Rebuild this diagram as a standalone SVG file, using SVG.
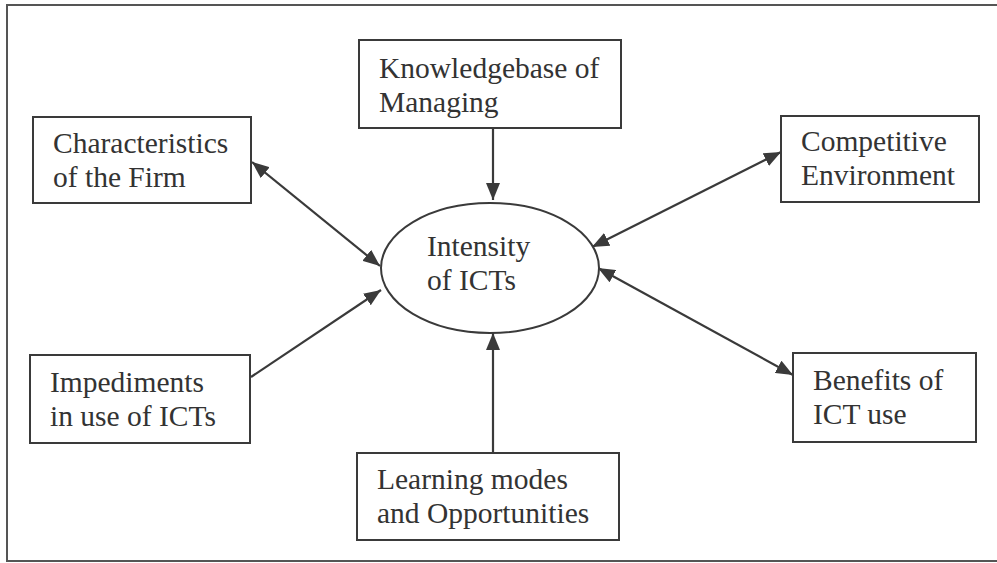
<svg xmlns="http://www.w3.org/2000/svg" width="997" height="563" viewBox="0 0 997 563">
<defs>
<marker id="ah" markerUnits="userSpaceOnUse" markerWidth="18" markerHeight="14" viewBox="0 0 18 14" refX="17" refY="7" orient="auto-start-reverse">
<path d="M0,0 L17,7 L0,14 z" fill="#3a3a3a"/>
</marker>
<style>
.box{fill:#fff;stroke:#3a3a3a;stroke-width:2}
.t{font-family:"Liberation Serif","Times New Roman",serif;font-size:29.5px;fill:#333}
.c{stroke:#3a3a3a;stroke-width:2.2;fill:none}
</style>
</defs>
<rect x="0" y="0" width="997" height="563" fill="#fff"/>
<rect x="7" y="5" width="1000" height="556" fill="none" stroke="#555" stroke-width="2"/>
<g id="connectors">
<line class="c" x1="493" y1="129" x2="493" y2="200" marker-end="url(#ah)"/>
<line class="c" x1="252" y1="162" x2="380" y2="266" marker-start="url(#ah)" marker-end="url(#ah)"/>
<line class="c" x1="781" y1="152" x2="592" y2="247" marker-start="url(#ah)" marker-end="url(#ah)"/>
<line class="c" x1="251" y1="377" x2="381" y2="290" marker-end="url(#ah)"/>
<line class="c" x1="493" y1="452" x2="493" y2="333" marker-end="url(#ah)"/>
<line class="c" x1="793" y1="375" x2="598" y2="268" marker-start="url(#ah)" marker-end="url(#ah)"/>
</g>
<g id="knowledgebase">
<rect class="box" x="359" y="40" width="262" height="88"/>
<text class="t" x="379" y="78">Knowledgebase of</text>
<text class="t" x="379" y="112">Managing</text>
</g>
<g id="characteristics">
<rect class="box" x="33" y="117" width="218" height="86"/>
<text class="t" x="53" y="153">Characteristics</text>
<text class="t" x="53" y="187">of the Firm</text>
</g>
<g id="competitive">
<rect class="box" x="781" y="116" width="198" height="86"/>
<text class="t" x="801" y="151">Competitive</text>
<text class="t" x="801" y="185">Environment</text>
</g>
<g id="intensity">
<ellipse cx="490" cy="268" rx="109" ry="65" fill="#fff" stroke="#3a3a3a" stroke-width="2"/>
<text class="t" x="427" y="256">Intensity</text>
<text class="t" x="427" y="290">of ICTs</text>
</g>
<g id="impediments">
<rect class="box" x="30" y="355" width="220" height="88"/>
<text class="t" x="50" y="392">Impediments</text>
<text class="t" x="50" y="426">in use of ICTs</text>
</g>
<g id="benefits">
<rect class="box" x="793" y="353" width="183" height="89"/>
<text class="t" x="813" y="390">Benefits of</text>
<text class="t" x="813" y="424">ICT use</text>
</g>
<g id="learning">
<rect class="box" x="357" y="453" width="262" height="87"/>
<text class="t" x="377" y="489">Learning modes</text>
<text class="t" x="377" y="523">and Opportunities</text>
</g>
</svg>
